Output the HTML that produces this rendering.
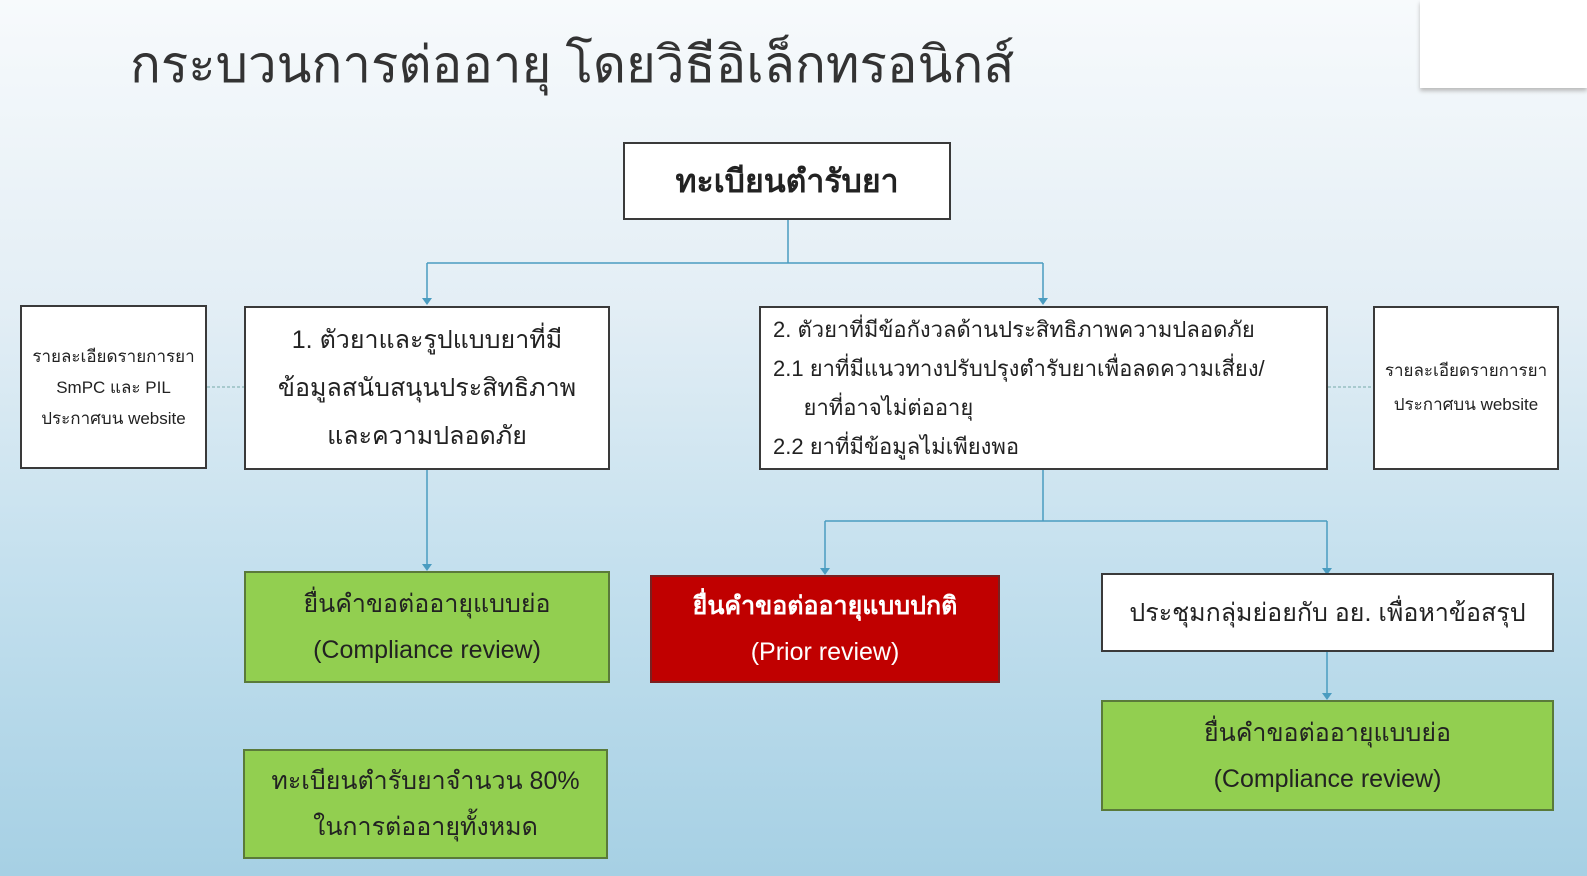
<!DOCTYPE html>
<html><head><meta charset="utf-8"><style>
body{margin:0;width:1587px;height:876px;overflow:hidden;position:relative;
background:linear-gradient(180deg,#f7fafc 0%,#e3eef5 35%,#c4e0ee 65%,#a6d0e4 100%);
font-family:"Liberation Sans","DejaVu Sans","Noto Sans CJK SC",sans-serif;color:#222}
.b{position:absolute;box-sizing:border-box;border:2px solid #3a3a3a;background:#fff;display:flex;flex-direction:column;justify-content:center;align-items:center;text-align:center}
.g{background:#92cf50;border-color:#5a7a3a}
.r{background:#c00000;border-color:#7a2020;color:#fff}
svg{position:absolute;left:0;top:0}
</style></head><body>
<div style="position:absolute;left:130px;top:24px;font-size:51px;color:#333">กระบวนการต่ออายุ โดยวิธีอิเล็กทรอนิกส์</div>
<div style="position:absolute;left:1420px;top:0;width:167px;height:88px;background:#fff;box-shadow:0 3px 4px #bbb"></div>
<svg width="1587" height="876">
<g stroke="#4a9cc0" stroke-width="1.5" fill="none">
<path d="M788 219V263M427 263H1043M427 263V300M1043 263V300"/>
<path d="M427 470V566"/>
<path d="M1043 470V521M825 521H1327M825 521V570M1327 521V570"/>
<path d="M1327 652V695"/>
</g>
<g fill="#4a9cc0">
<path d="M422 298h10l-5 7z"/><path d="M1038 298h10l-5 7z"/>
<path d="M422 564h10l-5 7z"/><path d="M820 568h10l-5 7z"/>
<path d="M1322 568h10l-5 7z"/><path d="M1322 693h10l-5 7z"/>
</g>
<g stroke="#7aa" stroke-width="1" stroke-dasharray="3 2"><path d="M207 387H245M1328 387H1374"/></g>
</svg>
<div class="b" style="left:623px;top:142px;width:328px;height:78px;font-size:32px;font-weight:bold">ทะเบียนตำรับยา</div>
<div class="b" style="left:20px;top:305px;width:187px;height:164px;font-size:17px;line-height:31px">รายละเอียดรายการยา<br>SmPC และ PIL<br>ประกาศบน website</div>
<div class="b" style="left:244px;top:306px;width:366px;height:164px;font-size:25px;line-height:48px">1. ตัวยาและรูปแบบยาที่มี<br>ข้อมูลสนับสนุนประสิทธิภาพ<br>และความปลอดภัย</div>
<div class="b" style="left:759px;top:306px;width:569px;height:164px;font-size:22px;line-height:39px;align-items:flex-start;text-align:left;padding-left:12px">2. ตัวยาที่มีข้อกังวลด้านประสิทธิภาพความปลอดภัย<br>2.1 ยาที่มีแนวทางปรับปรุงตำรับยาเพื่อลดความเสี่ยง/<br>&nbsp;&nbsp;&nbsp;&nbsp;&nbsp;ยาที่อาจไม่ต่ออายุ<br>2.2 ยาที่มีข้อมูลไม่เพียงพอ</div>
<div class="b" style="left:1373px;top:306px;width:186px;height:164px;font-size:17px;line-height:34px">รายละเอียดรายการยา<br>ประกาศบน website</div>
<div class="b g" style="left:244px;top:571px;width:366px;height:112px;font-size:25px;line-height:46px">ยื่นคำขอต่ออายุแบบย่อ<br>(Compliance review)</div>
<div class="b r" style="left:650px;top:575px;width:350px;height:108px;font-size:25px;line-height:46px;font-weight:bold">ยื่นคำขอต่ออายุแบบปกติ<br><span style="font-weight:normal">(Prior review)</span></div>
<div class="b" style="left:1101px;top:573px;width:453px;height:79px;font-size:25px">ประชุมกลุ่มย่อยกับ อย. เพื่อหาข้อสรุป</div>
<div class="b g" style="left:1101px;top:700px;width:453px;height:111px;font-size:25px;line-height:46px">ยื่นคำขอต่ออายุแบบย่อ<br>(Compliance review)</div>
<div class="b g" style="left:243px;top:749px;width:365px;height:110px;font-size:25px;line-height:46px">ทะเบียนตำรับยาจำนวน 80%<br>ในการต่ออายุทั้งหมด</div>
</body></html>
